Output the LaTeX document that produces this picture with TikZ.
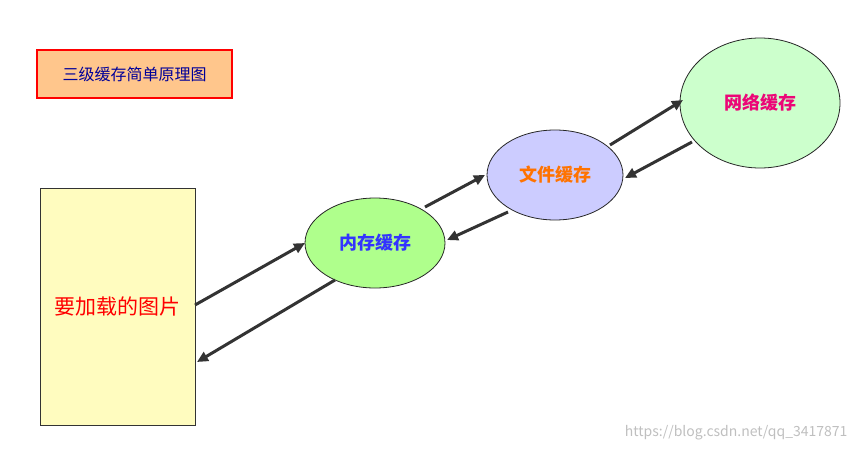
\documentclass[tikz,border=0pt]{standalone}
\usepackage{fontspec}
\setmainfont{Noto Sans CJK SC}
\usetikzlibrary{arrows.meta,shapes.geometric}
\begin{document}
\begin{tikzpicture}[x=1pt,y=-1pt,
  arr/.style={line width=3pt,draw=black!80,-{Triangle[length=11pt,width=10pt]}},
  ell/.style={ellipse,draw=black!85,line width=0.8pt,inner sep=0pt,font=\bfseries\fontsize{18}{20}\selectfont}]
\useasboundingbox (0,0) rectangle (851,458);
\node[draw=red,line width=1.2pt,fill=orange!45,minimum width=195pt,minimum height=48pt,text=blue!60!black,font=\fontsize{16}{18}\selectfont] (title) at (134.5,74) {三级缓存简单原理图};
\node[draw=black!80,fill=yellow!25,minimum width=155pt,minimum height=237pt,text=red,font=\fontsize{21}{24}\selectfont] (pic) at (117.5,306.5) {要加载的图片};
\node[ell,fill=green!60!lime!45,minimum width=140pt,minimum height=90pt,text=blue!80] (mem) at (375,243) {内存缓存};
\node[ell,fill=blue!20,minimum width=136pt,minimum height=90pt,text=orange!90!red] (file) at (555,175) {文件缓存};
\node[ell,fill=green!20,minimum width=160pt,minimum height=130pt,text=magenta!80!red] (net) at (760,103) {网络缓存};
\coordinate (a1) at (195,305); \coordinate (a2) at (305,243);
\coordinate (b1) at (335,280); \coordinate (b2) at (197,362);
\coordinate (c1) at (425,207); \coordinate (c2) at (485,175);
\coordinate (d1) at (508,212); \coordinate (d2) at (447,240);
\coordinate (e1) at (610,145); \coordinate (e2) at (683,100);
\coordinate (f1) at (692,142); \coordinate (f2) at (625,178);
\draw[arr] (a1) -- (a2);
\draw[arr] (b1) -- (b2);
\draw[arr] (c1) -- (c2);
\draw[arr] (d1) -- (d2);
\draw[arr] (e1) -- (e2);
\draw[arr] (f1) -- (f2);
\node[text=black!25,font=\fontsize{14}{16}\selectfont,anchor=east] (wm) at (851,433) {https://blog.csdn.net/qq\_3417871};
\end{tikzpicture}
\end{document}
